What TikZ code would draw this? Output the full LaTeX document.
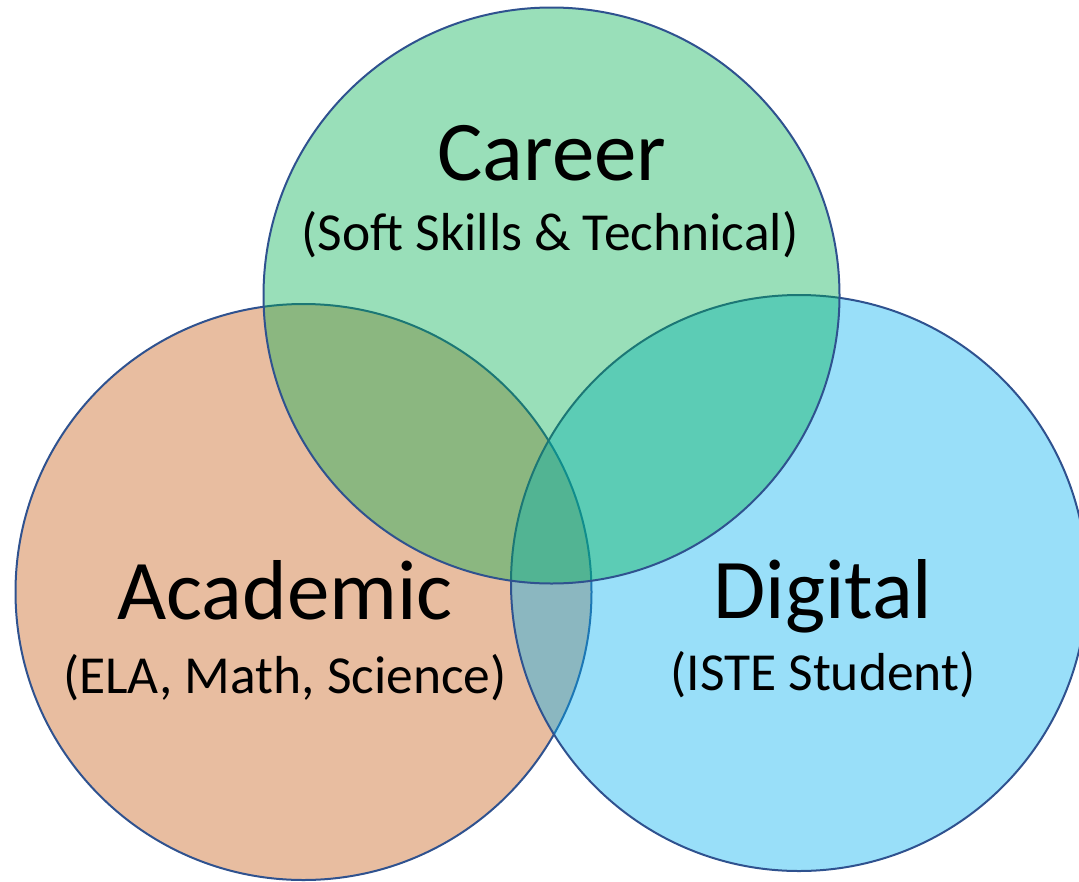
\documentclass[tikz,border=0pt]{standalone}
\usepackage{fontspec}
\setmainfont{Carlito}
\definecolor{careerC}{RGB}{0,176,80}
\definecolor{acadC}{RGB}{197,90,17}
\definecolor{digiC}{RGB}{0,176,240}
\definecolor{outl}{RGB}{47,82,143}
\begin{document}
\begin{tikzpicture}[x=1pt,y=-1pt,
  venn/.style={draw=outl, line width=2pt, fill opacity=0.4, draw opacity=1},
  ttl/.style={anchor=base, inner sep=0pt, font=\fontsize{85}{90}\selectfont},
  sub/.style={anchor=base, inner sep=0pt, font=\fontsize{53.5}{58}\selectfont}]
\useasboundingbox (0,0) rectangle (1079,881);
\clip (0,0) rectangle (1079,881);
\path[venn, fill=acadC] (303.5,592) circle[radius=288pt];
\path[venn, fill=digiC] (799,583) circle[radius=288pt];
\path[venn, fill=careerC] (551.5,295.5) circle[radius=288pt];
\node[ttl] (career) at (552,180) {Career};
\node[sub] (careersub) at (550,250) {(Soft Skills \& Technical)};
\node[ttl] (acad) at (285,619) {Academic};
\node[sub] (acadsub) at (285,693) {(ELA, Math, Science)};
\node[ttl] (digi) at (823,618) {Digital};
\node[sub] (digisub) at (823,690) {(ISTE Student)};
\end{tikzpicture}
\end{document}
